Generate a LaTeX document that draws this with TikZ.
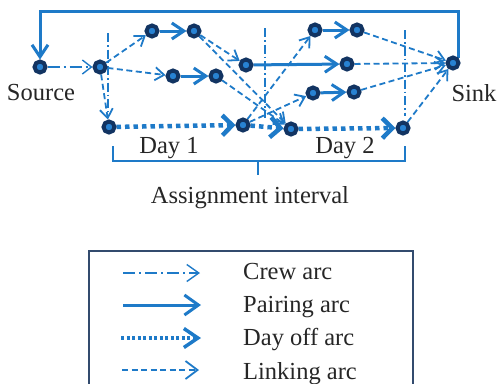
\documentclass[tikz,border=0pt]{standalone}
\usepackage{fontspec}
\setmainfont{Liberation Serif}
\usetikzlibrary{arrows.meta,backgrounds}
\definecolor{arcblue}{RGB}{30,122,200}
\definecolor{nodenavy}{RGB}{18,52,98}
\definecolor{nodefill}{RGB}{40,130,210}
\definecolor{boxline}{RGB}{50,75,110}
\begin{document}
\begin{tikzpicture}[x=1pt,y=-1pt,
 nd/.style={circle,fill=nodefill,draw=nodenavy,line width=4pt,minimum size=11pt,inner sep=0pt},
 lbl/.style={font=\fontsize{24.5}{28}\selectfont,text=black!85,inner sep=0pt,anchor=base},
 lgd/.style={font=\fontsize{24.5}{28}\selectfont,text=black!85,inner sep=0pt,anchor=base west},
 crewarc/.style={arcblue,line width=1.4pt,dash pattern=on 12pt off 4pt on 2pt off 4pt,-{Straight Barb[length=9pt,width=14pt]}},
 linkarc/.style={arcblue,line width=1.8pt,dash pattern=on 6pt off 3.5pt,-{Straight Barb[length=9pt,width=13pt]}},
 pairarc/.style={arcblue,line width=3pt,-{Straight Barb[length=12pt,width=16pt]}},
 offarc/.style={arcblue,line width=4.5pt,dash pattern=on 4.5pt off 4pt,-{Straight Barb[length=10pt,width=20pt]}},
 dayline/.style={arcblue,line width=1.1pt,dash pattern=on 9pt off 3pt on 1.5pt off 3pt},
]
\useasboundingbox (0,0) rectangle (498,383);

% nodes
\node[nd] (S) at (40,67) {};
\node[nd] (A) at (100,67) {};
\node[nd] (B) at (152,31) {};
\node[nd] (C) at (194,31) {};
\node[nd] (D) at (173,76) {};
\node[nd] (E) at (216,76) {};
\node[nd] (F) at (246,65) {};
\node[nd] (G) at (109,127) {};
\node[nd] (H) at (243,125) {};
\node[nd] (I) at (291,129) {};
\node[nd] (J) at (313,93) {};
\node[nd] (N) at (354,92) {};
\node[nd] (K) at (315,30) {};
\node[nd] (L) at (357,30) {};
\node[nd] (M) at (347,64) {};
\node[nd] (O) at (403,128) {};
\node[nd] (T) at (453,63) {};

\coordinate (topR) at (458,11);
\coordinate (topL) at (40,11);

\begin{pgfonlayer}{background}
% day boundaries
\draw[dayline] (108,33) -- (108,112);
\draw[dayline] (265,28) -- (265,118);
\draw[dayline] (405,30) -- (405,116);

% crew arc
\draw[crewarc] (S) -- (A);
% linking arcs
\draw[linkarc] (A) -- (B);
\draw[linkarc] (A) -- (D);
\draw[linkarc] (A) -- (G);
\draw[linkarc] (C) -- (F);
\draw[linkarc] (C) -- (I);
\draw[linkarc] (E) -- (I);
\draw[linkarc] (H) -- (K);
\draw[linkarc] (H) -- (J);
\draw[linkarc] (L) -- (T);
\draw[linkarc] (M) -- (T);
\draw[linkarc] (N) -- (T);
\draw[linkarc] (O) -- (T);
% pairing arcs
\draw[pairarc] (B) -- (C);
\draw[pairarc] (D) -- (E);
\draw[pairarc] (F) -- (M);
\draw[pairarc] (K) -- (L);
\draw[pairarc] (J) -- (N);
% day off arcs
\draw[offarc] (G) -- (H);
\draw[offarc] (H) -- (I);
\draw[offarc] (I) -- (O);
% back arc
\draw[pairarc] (T.north east) -- (T.north east |- topR) -- (topL) -- (S);
\end{pgfonlayer}

% labels
\node[lbl] (src) at (41,100) {Source};
\node[lbl] (snk) at (474,101) {Sink};
\node[lbl] (d1) at (169,153) {Day 1};
\node[lbl] (d2) at (345,153) {Day 2};
\node[lbl] (ai) at (250,203) {Assignment interval};

% bracket
\draw[arcblue,line width=1.4pt] (113,146) -- (113,161) -- (405,161) -- (405,146);
\draw[arcblue,line width=1.4pt] (258,161) -- (258,175);

% legend
\draw[boxline,line width=1.2pt] (89,390) -- (89,251) -- (413,251) -- (413,390);
\coordinate (c1) at (123,273); \coordinate (c2) at (200,273);
\coordinate (p1) at (123,305); \coordinate (p2) at (201,305);
\coordinate (o1) at (121,338); \coordinate (o2) at (201,338);
\coordinate (k1) at (122,370); \coordinate (k2) at (199,370);
\draw[crewarc,-{Straight Barb[length=12pt,width=17pt]}] (c1) -- (c2);
\draw[pairarc,-{Straight Barb[length=14pt,width=20pt]}] (p1) -- (p2);
\draw[offarc,line width=3.5pt,dash pattern=on 3pt off 2.5pt,-{Straight Barb[length=14pt,width=19pt]}] (o1) -- (o2);
\draw[linkarc,-{Straight Barb[length=12pt,width=18pt]}] (k1) -- (k2);
\node[lgd] (t1) at (243,279) {Crew arc};
\node[lgd] (t2) at (243,312) {Pairing arc};
\node[lgd] (t3) at (243,345) {Day off arc};
\node[lgd] (t4) at (243,379) {Linking arc};
\end{tikzpicture}
\end{document}
